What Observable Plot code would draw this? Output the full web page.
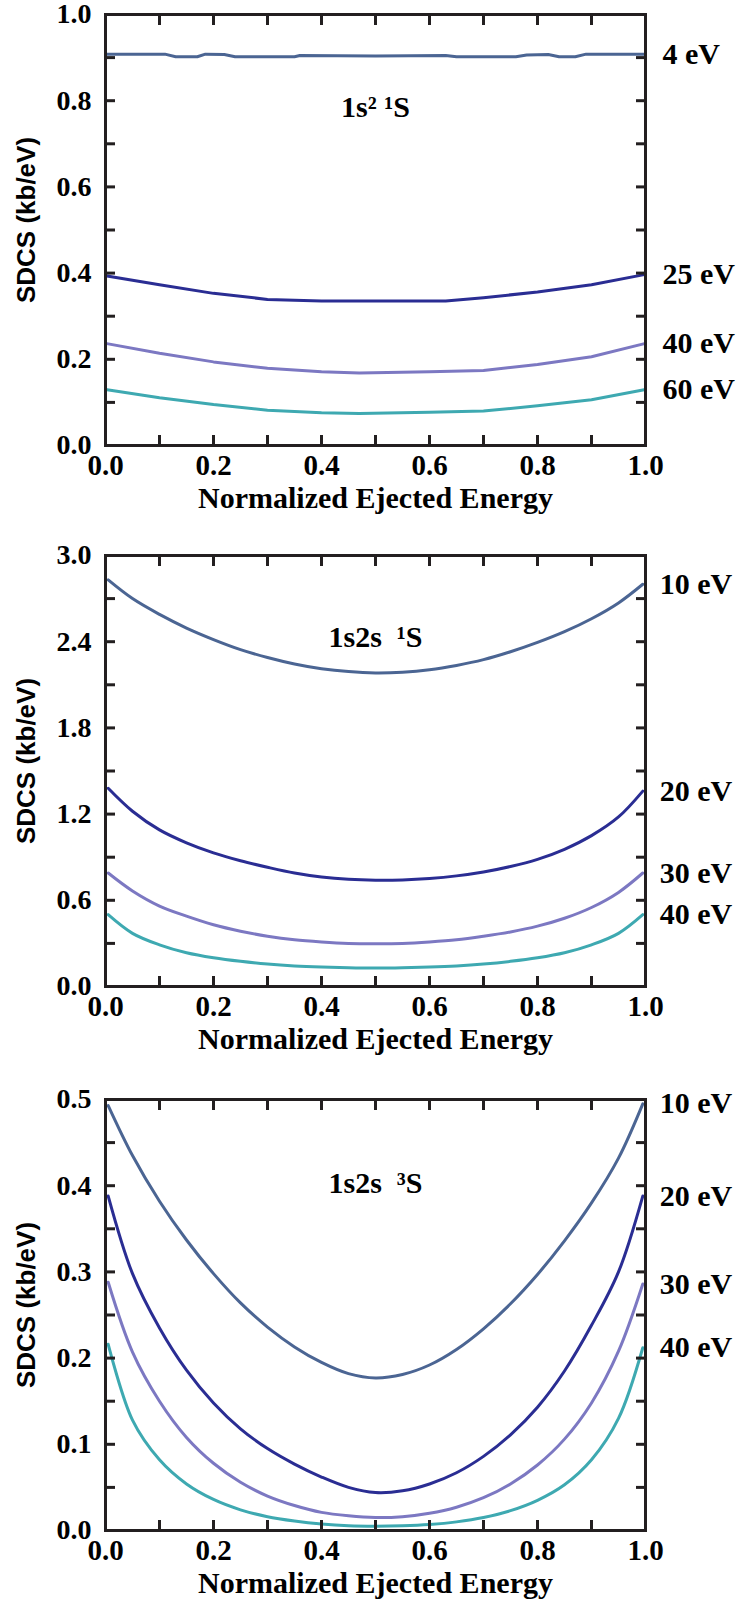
<!DOCTYPE html>
<html>
<head>
<meta charset="utf-8">
<script src="https://cdn.jsdelivr.net/npm/d3@7"></script>
<script src="https://cdn.jsdelivr.net/npm/@observablehq/plot@0.6"></script>
<style>
  body { margin: 0; background: #fff; }
  #wrap { position: relative; width: 741px; height: 1606px; overflow: hidden; }
  #wrap > svg { position: absolute; left: 0; }
</style>
</head>
<body>
<div id="wrap"></div>
<script>
// ---- 1s^2 1S (ground state) ----
const gsLabels = ["4 eV", "25 eV", "40 eV", "60 eV"];
const gs4X  = [0, 0.11, 0.13, 0.17, 0.185, 0.22, 0.24, 0.35, 0.36, 0.5, 0.63, 0.65, 0.76, 0.78, 0.82, 0.84, 0.87, 0.89, 1];
const gs4Y  = [0.908, 0.908, 0.902, 0.902, 0.908, 0.907, 0.902, 0.902, 0.905, 0.904, 0.905, 0.902, 0.902, 0.906, 0.907, 0.902, 0.902, 0.908, 0.908];
const gs25X = [0, 0.1, 0.2, 0.3, 0.4, 0.5, 0.63, 0.7, 0.8, 0.9, 1];
const gs25Y = [0.394, 0.373, 0.353, 0.339, 0.335, 0.335, 0.335, 0.343, 0.356, 0.373, 0.397];
const gs40X = [0, 0.1, 0.2, 0.3, 0.4, 0.47, 0.6, 0.7, 0.8, 0.9, 1];
const gs40Y = [0.237, 0.214, 0.194, 0.179, 0.171, 0.168, 0.171, 0.174, 0.188, 0.206, 0.237];
const gs60X = [0, 0.1, 0.2, 0.3, 0.4, 0.47, 0.6, 0.7, 0.8, 0.9, 1];
const gs60Y = [0.130, 0.111, 0.095, 0.082, 0.076, 0.074, 0.077, 0.080, 0.092, 0.106, 0.130];

// shared energy grid for the excited-state curves
const exX = [0.005, 0.05, 0.1, 0.15, 0.2, 0.25, 0.3, 0.35, 0.4, 0.45, 0.5, 0.55, 0.6, 0.65, 0.7, 0.75, 0.8, 0.85, 0.9, 0.95, 0.995];

// ---- 1s2s 1S ----
const sLabels = ["10 eV", "20 eV", "30 eV", "40 eV"];
const s10Y = [2.83, 2.70, 2.59, 2.495, 2.415, 2.345, 2.29, 2.245, 2.212, 2.192, 2.183, 2.188, 2.205, 2.235, 2.275, 2.33, 2.395, 2.47, 2.56, 2.67, 2.80];
const s20Y = [1.38, 1.22, 1.09, 1.00, 0.93, 0.875, 0.83, 0.79, 0.762, 0.746, 0.74, 0.742, 0.752, 0.77, 0.797, 0.835, 0.885, 0.955, 1.05, 1.18, 1.36];
const s30Y = [0.79, 0.665, 0.56, 0.49, 0.43, 0.385, 0.35, 0.325, 0.31, 0.30, 0.298, 0.30, 0.31, 0.325, 0.35, 0.38, 0.42, 0.475, 0.55, 0.655, 0.79];
const s40Y = [0.50, 0.37, 0.29, 0.235, 0.20, 0.175, 0.156, 0.143, 0.135, 0.13, 0.128, 0.13, 0.135, 0.143, 0.156, 0.175, 0.20, 0.235, 0.29, 0.37, 0.50];

// ---- 1s2s 3S ----
const tLabels = ["10 eV", "20 eV", "30 eV", "40 eV"];
const t10Y = [0.493, 0.435, 0.382, 0.337, 0.298, 0.264, 0.236, 0.213, 0.195, 0.182, 0.177, 0.181, 0.192, 0.210, 0.234, 0.263, 0.297, 0.336, 0.380, 0.432, 0.495];
const t20Y = [0.388, 0.298, 0.235, 0.186, 0.148, 0.118, 0.095, 0.077, 0.062, 0.050, 0.044, 0.046, 0.054, 0.067, 0.086, 0.111, 0.143, 0.185, 0.238, 0.300, 0.388];
const t30Y = [0.288, 0.207, 0.150, 0.108, 0.078, 0.056, 0.040, 0.029, 0.021, 0.017, 0.015, 0.016, 0.020, 0.027, 0.038, 0.054, 0.076, 0.106, 0.148, 0.208, 0.286];
const t40Y = [0.216, 0.128, 0.082, 0.054, 0.036, 0.024, 0.016, 0.011, 0.0075, 0.0055, 0.005, 0.0055, 0.007, 0.010, 0.015, 0.023, 0.035, 0.053, 0.082, 0.130, 0.212];

const lineColors = ["#4b6593", "#2a2d93", "#7c78c2", "#3ea9b1"];
const ink = "#231f20";
const serif = "'Liberation Serif', 'Times New Roman', serif";
const sans = "'Liberation Sans', Arial, sans-serif";

function series(labels, xs, ys) {
  return labels.flatMap((label, k) =>
    xs[k].map((x, i) => ({x, y: ys[k][i], key: label})));
}

function panel({labels, xs, ys, yDomain, yMinorStep, yMajorStep, title, titleDy, curve}) {
  const rows = series(labels, xs, ys);
  const ends = labels.map((label, k) => ({x: xs[k].at(-1), y: ys[k].at(-1), label}));
  const xMinor = d3.range(0, 11).map(i => i / 10);
  const xMajor = d3.range(0, 6).map(i => i / 5);
  const nMinor = Math.round((yDomain[1] - yDomain[0]) / yMinorStep);
  const yMinor = d3.range(0, nMinor + 1).map(i => +(i * yMinorStep).toFixed(4));
  const nMajor = Math.round((yDomain[1] - yDomain[0]) / yMajorStep);
  const yMajor = d3.range(0, nMajor + 1).map(i => +(i * yMajorStep).toFixed(4));
  const tickOpts = {fill: "none", stroke: ink, strokeWidth: 3, tickSize: 10, label: null};
  const textOpts = {tickSize: 0, fill: "black", stroke: "none", label: null, fontWeight: "bold", fontFamily: serif, tickFormat: d => d.toFixed(1)};
  return Plot.plot({
    width: 741,
    height: 521,
    marginTop: 14,
    marginLeft: 105,
    marginRight: 96,
    marginBottom: 76,
    style: {fontFamily: serif, background: "white", overflow: "visible"},
    x: {domain: [0, 1]},
    y: {domain: yDomain},
    color: {domain: labels, range: lineColors},
    marks: [
      Plot.line(rows, {x: "x", y: "y", z: "key", stroke: "key", strokeWidth: 3, curve}),
      Plot.frame({stroke: ink, strokeWidth: 3}),
      // inward tick marks on all four sides
      Plot.axisX(xMinor, {...tickOpts, anchor: "bottom", dy: -10}),
      Plot.axisX(xMinor, {...tickOpts, anchor: "top", dy: 10}),
      Plot.axisY(yMinor, {...tickOpts, anchor: "left", dx: 10}),
      Plot.axisY(yMinor, {...tickOpts, anchor: "right", dx: -10}),
      // tick labels
      Plot.axisX(xMajor, {...textOpts, fontSize: 29, anchor: "bottom", tickPadding: 9}),
      Plot.axisY(yMajor, {...textOpts, fontSize: 28, anchor: "left", tickPadding: 14}),
      // series labels at the right-hand end of each curve
      Plot.text(ends, {x: "x", y: "y", text: "label", dx: 17, textAnchor: "start", fontSize: 30, fontWeight: "bold", fill: "black"}),
      // state label
      Plot.text([title], {frameAnchor: "top", dy: titleDy, fontSize: 30, fontWeight: "bold", fill: "black"}),
      // axis titles
      Plot.text(["Normalized Ejected Energy"], {frameAnchor: "bottom", dy: 62, fontSize: 30, fontWeight: "bold", fill: "black"}),
      Plot.text(["SDCS (kb/eV)"], {frameAnchor: "left", textAnchor: "middle", dx: -79, dy: -10, rotate: -90, fontSize: 26, fontWeight: "bold", fontFamily: sans, fill: "black"})
    ]
  });
}

const wrap = document.getElementById("wrap");
const panels = [
  {
    top: 0,
    labels: gsLabels,
    xs: [gs4X, gs25X, gs40X, gs60X],
    ys: [gs4Y, gs25Y, gs40Y, gs60Y],
    yDomain: [0, 1], yMinorStep: 0.1, yMajorStep: 0.2,
    title: "1s\u00B2 \u00B9S", titleDy: 81, curve: "linear"
  },
  {
    top: 541,
    labels: sLabels,
    xs: [exX, exX, exX, exX],
    ys: [s10Y, s20Y, s30Y, s40Y],
    yDomain: [0, 3], yMinorStep: 0.3, yMajorStep: 0.6,
    title: "1s2s  \u00B9S", titleDy: 70, curve: "catmull-rom"
  },
  {
    top: 1085,
    labels: tLabels,
    xs: [exX, exX, exX, exX],
    ys: [t10Y, t20Y, t30Y, t40Y],
    yDomain: [0, 0.5], yMinorStep: 0.05, yMajorStep: 0.1,
    title: "1s2s  \u00B3S", titleDy: 72, curve: "catmull-rom"
  }
];
for (const p of panels) {
  const svg = panel(p);
  svg.style.top = p.top + "px";
  wrap.appendChild(svg);
}
</script>
</body>
</html>
